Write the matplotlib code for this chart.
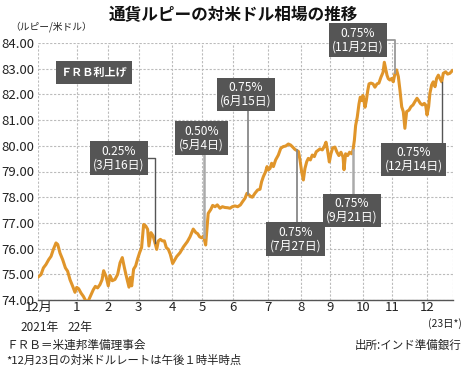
import numpy as np
import matplotlib.pyplot as plt

plt.rcParams['font.family'] = ['Noto Sans CJK JP', 'DejaVu Sans']

# trading days counted from 2021-12-01 / rupees per US dollar
day = [0, 1.7, 3.2, 4.8, 6.5, 8, 9.4, 11.1, 12.2, 13.6, 15.3, 17, 18.4, 19.9, 21.6,
       23, 24.1, 25.3, 26.8, 28.3, 29.9, 31.4, 33.1, 34.5, 35.8, 37.2, 38.7, 40, 41,
       42.5, 43.9, 45, 46.4, 48.1, 49.8, 51.3, 52.7, 54, 55.4, 56.9, 57.7, 58.6, 59.8,
       61.1, 62.3, 63.6, 64.8, 66.1, 67.4, 68.6, 69.4, 70.7, 72, 74.3, 75.3, 76.6,
       77.8, 79.1, 80.3, 81.6, 82.8, 84.3, 86.8, 88.9, 91.1, 93.5, 95.2, 97.2, 98.9,
       100, 101.2, 102.5, 103.7, 105, 106.6, 108.2, 109.4, 110.9, 112.3, 114, 115.5,
       117.1, 118.8, 120.3, 121.7, 123.4, 125.1, 126.8, 128.2, 129.7, 130.9, 132.2,
       133.3, 134.3, 135.9, 137.6, 139.1, 140.1, 141.2, 142.6, 143.5, 144.3, 145.4,
       146.4, 147.5, 148.9, 150.6, 152.1, 153.7, 155.2, 156.9, 158.3, 159.8, 161,
       162.3, 163.2, 164.2, 165.2, 166.3, 167.3, 168.4, 169.4, 170.7, 171.9, 173.2,
       174.4, 175.5, 176.7, 178.2, 179.4, 180.5, 181.5, 182.6, 183.6, 184.7, 186.1,
       187.4, 188.6, 189.9, 191.2, 191.8, 192.8, 194.1, 195.3, 196.6, 197.4, 198.3,
       199.1, 200.1, 201.2, 202, 202.9, 203.7, 205, 205.8, 206.7, 207.5, 208.7, 210,
       211.2, 212.5, 213.7, 215, 216.3, 217.1, 217.9, 218.8, 219.6, 220.6, 221.7,
       222.7, 223.8, 224.8, 225.9, 226.9, 228, 229, 230, 231.1, 232.6, 233.8, 235.1,
       236.3, 237.6, 238.4, 239.7, 240.9, 242.2, 243, 243.9, 244.9, 245.7, 246.8,
       247.8, 248.9, 249.9, 251, 252, 253.1, 254.1, 255.6, 256.8, 258.2, 259.7]
rate = [74.90, 74.99, 75.25, 75.38, 75.57, 75.70, 75.96, 76.22, 76.16, 75.83, 75.57,
        75.25, 75.12, 74.79, 74.53, 74.30, 74.49, 74.44, 74.27, 74.14, 73.95, 73.97,
        74.21, 74.40, 74.53, 74.47, 74.60, 74.79, 75.14, 74.92, 74.55, 74.95, 74.75,
        74.80, 75.00, 75.45, 75.65, 75.26, 74.88, 74.50, 74.88, 74.55, 75.20, 75.33,
        75.60, 75.85, 76.04, 76.94, 76.88, 76.75, 76.10, 76.62, 76.50, 75.97, 76.30,
        76.36, 76.30, 76.30, 76.04, 75.97, 75.78, 75.42, 75.69, 75.84, 76.07, 76.27,
        76.46, 76.76, 76.62, 76.58, 76.46, 76.42, 76.49, 76.14, 77.37, 77.52, 77.68,
        77.63, 77.70, 77.57, 77.63, 77.60, 77.59, 77.57, 77.63, 77.66, 77.63, 77.70,
        77.83, 77.96, 78.15, 78.09, 78.02, 78.00, 78.15, 78.28, 78.31, 78.60, 78.80,
        78.99, 79.19, 79.06, 79.12, 79.32, 79.19, 79.45, 79.64, 79.90, 79.97, 79.99,
        80.07, 80.03, 79.94, 79.86, 79.81, 79.78, 79.45, 79.00, 78.67, 79.12, 79.38,
        79.51, 79.45, 79.64, 79.58, 79.77, 79.82, 79.88, 79.84, 79.97, 80.14, 79.82,
        79.37, 79.69, 79.92, 79.95, 79.75, 79.62, 79.75, 79.56, 79.07, 79.69, 79.62,
        79.75, 79.69, 79.82, 80.21, 80.79, 81.11, 81.63, 81.89, 81.76, 81.96, 81.50,
        81.76, 82.15, 82.41, 82.44, 82.41, 82.28, 82.41, 82.44, 82.67, 82.86, 83.25,
        83.00, 82.74, 82.61, 82.56, 82.62, 82.49, 82.82, 82.95, 82.69, 82.17, 81.52,
        81.33, 80.68, 81.33, 81.39, 81.52, 81.59, 81.72, 81.85, 81.78, 81.65, 81.59,
        81.65, 81.59, 81.20, 81.52, 82.04, 82.37, 82.49, 82.30, 82.62, 82.75, 82.62,
        82.49, 82.82, 82.88, 82.79, 82.82, 82.92]

month_pos = [0, 24, 44, 63, 84, 103, 122, 144, 165, 183, 204, 222, 244]
month_lbl = ['12月', '1', '2', '3', '4', '5', '6', '7', '8', '9', '10', '11', '12']
y_ticks = [74, 75, 76, 77, 78, 79, 80, 81, 82, 83, 84]

# FRB rate hikes
hike_size = ['0.25%', '0.50%', '0.75%', '0.75%', '0.75%', '0.75%', '0.75%']
hike_date = ['3月16日', '5月4日', '6月15日', '7月27日', '9月21日', '11月2日', '12月14日']
hike_day = [73.2, 103.8, 131.7, 162.1, 197.4, 223.8, 253.1]

W, H = 465, 367
fig = plt.figure(figsize=(W / 100, H / 100), dpi=100)
ax = fig.add_axes([38.3 / W, 1 - 300 / H, (452.7 - 38.3) / W, 257 / H])

ax.plot(day, rate, color='#e0952a', lw=2.2, solid_joinstyle='round', zorder=3)

ax.set_xlim(0, 260)
ax.set_ylim(74, 84)
ax.set_yticks(y_ticks, ['%.2f' % v for v in y_ticks])
ax.set_xticks(month_pos, month_lbl)
ax.tick_params(axis='y', length=0, pad=3, labelsize=9.5, labelcolor='#222222')
ax.tick_params(axis='x', length=0, pad=1, labelsize=9.5, labelcolor='#222222')
ax.grid(True, color='#bbbbbb', lw=0.8, ls=(0, (2, 1.5)))
ax.axvline(260, color='#bbbbbb', lw=0.8, ls=(0, (2, 1.5)))
for s in ['top', 'right', 'left']:
    ax.spines[s].set_visible(False)
ax.spines['bottom'].set_color('#555555')
ax.spines['bottom'].set_linewidth(1.0)

# boxes (layout) and connectors to the line
box_x = [50.6, 102.4, 130.3, 161.2, 196.8, 200.6, 235.4]
box_y = [79.53, 80.30, 82.0, 76.37, 77.48, 84.12, 79.47]
conn_col = ['#555555', '#aaaaaa', '#888888', '#888888', '#aaaaaa', '#999999', '#555555']
conn_lw = [1.0, 1.8, 1.3, 1.3, 1.8, 1.3, 1.0]
for i in range(len(hike_day)):
    yl = np.interp(hike_day[i], day, rate)
    ax.plot([box_x[i], hike_day[i], hike_day[i]], [box_y[i], box_y[i], yl],
            color=conn_col[i], lw=conn_lw[i], zorder=4, clip_on=False)
    ax.text(box_x[i], box_y[i], hike_size[i] + '\n(' + hike_date[i] + ')',
            ha='center', va='center', fontsize=8.6, color='white', linespacing=1.05,
            bbox=dict(boxstyle='square,pad=0.3', fc='#555555', ec='none'),
            zorder=5, clip_on=False)

ax.text(34.9, 82.87, 'ＦＲＢ利上げ', ha='center', va='center', fontsize=8,
        color='white', fontweight='bold',
        bbox=dict(boxstyle='square,pad=0.45', fc='#555555', ec='none'), zorder=5)

# titles and notes
fig.text(233.5 / W, 1 - 15 / H, '通貨ルピーの対米ドル相場の推移', ha='center', va='center',
         fontsize=12, fontweight='bold', color='#111111')
fig.text(10 / W, 1 - 27 / H, '（ルピー/米ドル）', ha='left', va='center', fontsize=7,
         color='#222222')
fig.text(40 / W, 1 - 327.7 / H, '2021年', ha='center', va='center', fontsize=8.5,
         color='#222222')
fig.text(80 / W, 1 - 327.7 / H, '22年', ha='center', va='center', fontsize=8.5,
         color='#222222')
fig.text(461.7 / W, 1 - 324 / H, '(23日*)', ha='right', va='center', fontsize=7.5,
         color='#222222')
fig.text(6 / W, 1 - 345 / H, 'ＦＲＢ＝米連邦準備理事会', ha='left', va='center',
         fontsize=8.4, color='#222222')
fig.text(461.7 / W, 1 - 345 / H, '出所:インド準備銀行', ha='right', va='center',
         fontsize=8.3, color='#222222')
fig.text(6 / W, 1 - 360 / H, '*12月23日の対米ドルレートは午後１時半時点', ha='left',
         va='center', fontsize=8.2, color='#222222')

fig.savefig('out.png', dpi=100)
